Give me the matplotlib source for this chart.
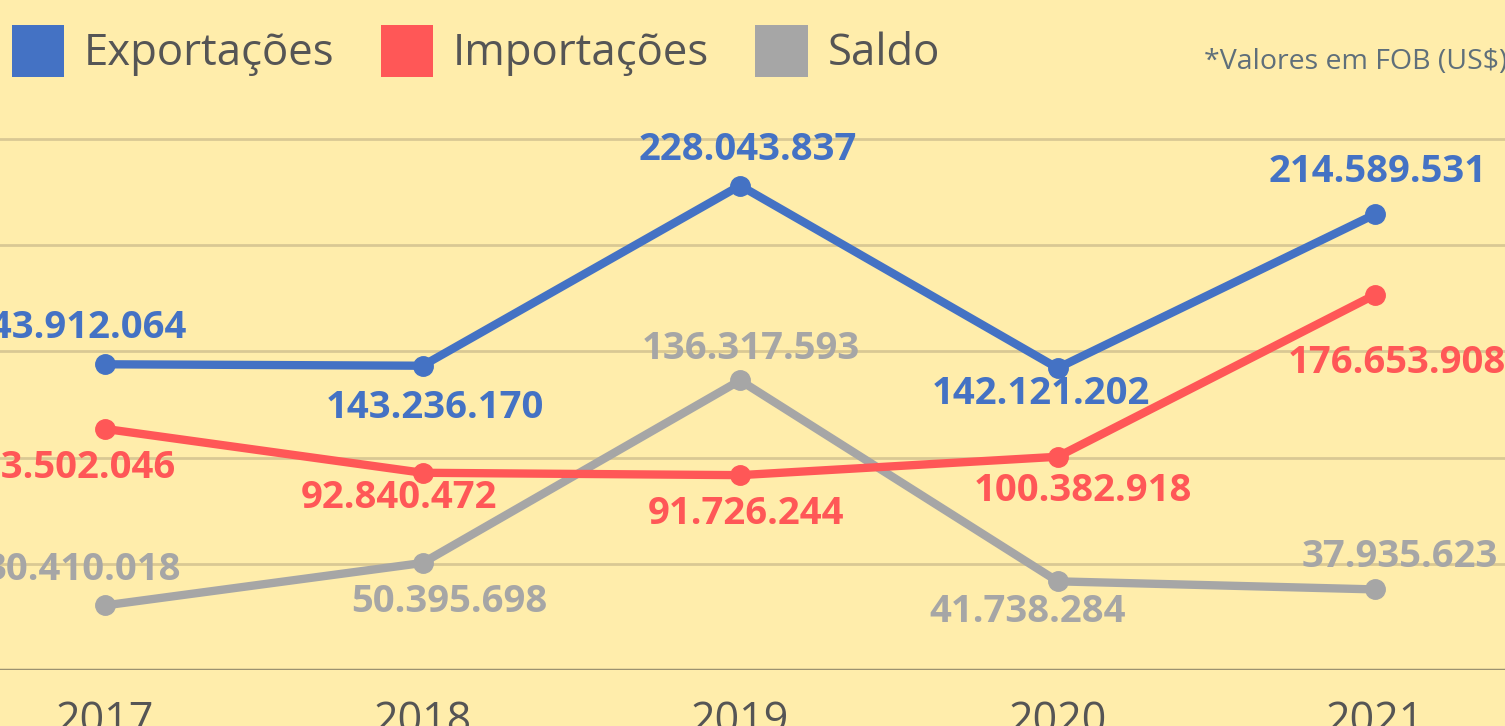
import matplotlib
matplotlib.use("Agg")
import matplotlib.pyplot as plt
from matplotlib.patches import Patch

anos = [2017, 2018, 2019, 2020, 2021]
exportacoes = [143912064, 143236170, 228043837, 142121202, 214589531]
importacoes = [113502046, 92840472, 91726244, 100382918, 176653908]
saldo = [30410018, 50395698, 136317593, 41738284, 37935623]

# label offsets from each point, in pixels (dx right, dy down)
off_exp = [(-27, -36), (12, 42), (8, -36), (-17, 26), (3, -42)]
off_imp = [(-38, 39), (-24, 25), (6, 39), (25, 34), (22, 68)]
off_sal = [(-22, -35), (27, 39), (11, -31), (-30, 31), (25, -32)]

bg = "#ffedab"
azul, vermelho, cinza = "#4472c4", "#ff5757", "#a6a6a6"

plt.rcParams["font.family"] = ["Open Sans", "DejaVu Sans"]

fig = plt.figure(figsize=(15.05, 7.26), dpi=100, facecolor=bg)
ax = fig.add_axes([0, 56 / 726, 1, 670 / 726])
ax.set_facecolor(bg)

def fmt(v):
    return f"{v:,}".replace(",", ".")

for vals, cor, offs in [(saldo, cinza, off_sal), (importacoes, vermelho, off_imp),
                        (exportacoes, azul, off_exp)]:
    ax.plot(anos, vals, color=cor, lw=6, marker="o", ms=14, zorder=3,
            solid_capstyle="round")
    for x, v, (dx, dy) in zip(anos, vals, offs):
        ax.annotate(fmt(v), (x, v), xytext=(dx * 0.72, -dy * 0.72),
                    textcoords="offset points", ha="center", va="center",
                    fontsize=27.5, fontweight="bold", color=cor, zorder=4,
                    annotation_clip=False)

ax.set_xlim(2016.669, 2021.409)
ax.set_ylim(0, 315.4e6)
ax.set_yticks([50e6, 100e6, 150e6, 200e6, 250e6])
ax.yaxis.grid(True, color="#d9c894", lw=2)
ax.set_axisbelow(True)
ax.axhline(0, color="#9b9270", lw=2.5, zorder=2)
ax.tick_params(axis="y", length=0, labelleft=False)
ax.set_xticks(anos)
ax.tick_params(axis="x", length=0, pad=21, labelsize=31, labelcolor="#555555")
for s in ax.spines.values():
    s.set_visible(False)

handles = [Patch(facecolor=azul, label="Exportações"),
           Patch(facecolor=vermelho, label="Importações"),
           Patch(facecolor=cinza, label="Saldo")]
leg = fig.legend(handles=handles, loc="upper left",
                 bbox_to_anchor=(12 / 1505, 1 - 25 / 726), ncol=3, frameon=False,
                 fontsize=31.5, handlelength=1.2, handleheight=1.45,
                 handletextpad=0.45, columnspacing=1.05, borderpad=0,
                 borderaxespad=0)
for t in leg.get_texts():
    t.set_color("#555555")

fig.text(1 + 2 / 1505, 1 - 62 / 726, "*Valores em FOB (US$)", ha="right",
         va="center", fontsize=20.5, color="#5f6f7a")

fig.savefig("out.png", dpi=100, facecolor=bg)
